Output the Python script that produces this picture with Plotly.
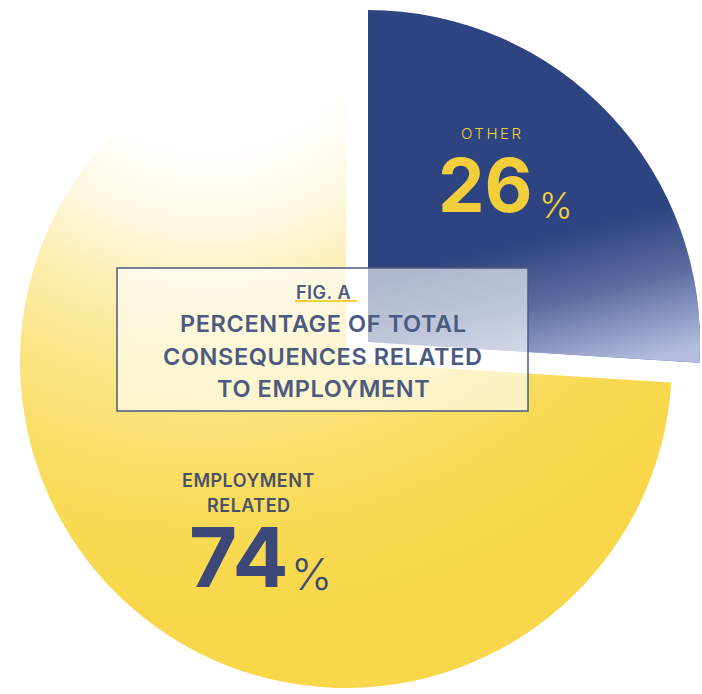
import base64
import math
import plotly.graph_objects as go

W, H = 702, 694

# ---------------- data ----------------
categories = ["Other", "Employment related"]
values = [26, 74]
slice_labels = [["OTHER"], ["EMPLOYMENT", "RELATED"]]
fig_tag = "FIG. A"
title_lines = ["PERCENTAGE OF TOTAL", "CONSEQUENCES RELATED", "TO EMPLOYMENT"]

# ---------------- style ----------------
NAVY = "#2d4480"
YELLOW = "#f8d84a"
LABEL_YELLOW = "#f2ce3a"
SLATE = "#4a5a80"
DARK_SLATE = "#4a5068"
NUM_NAVY = "#3b4878"
FONT = "Inter"

# pie geometry (pixels): navy slice is pulled out of the yellow pie
NAVY_C, NAVY_R = (368, 342), 332
YEL_C, YEL_R = (346, 362), 326


def dom(c, r):
    cx, cy = c
    return dict(x=[(cx - r) / W, (cx + r) / W], y=[1 - (cy + r) / H, 1 - (cy - r) / H])


def px(x):
    return x / W


def py(y):
    return 1 - y / H


fig = go.Figure()
fig.add_trace(go.Pie(
    labels=categories, values=values, sort=False, direction="clockwise", rotation=0,
    marker=dict(colors=["rgba(0,0,0,0)", YELLOW], line=dict(width=0)),
    textinfo="none", hoverinfo="label+percent", domain=dom(YEL_C, YEL_R), showlegend=False,
))
fig.add_trace(go.Pie(
    labels=categories, values=values, sort=False, direction="clockwise", rotation=0,
    marker=dict(colors=[NAVY, "rgba(0,0,0,0)"], line=dict(width=0)),
    textinfo="none", hoverinfo="label+percent", domain=dom(NAVY_C, NAVY_R), showlegend=False,
))

# ---------------- gradient overlays (decoration) ----------------
total = sum(values)
a_split = 360.0 * values[0] / total


def pt(c, r, a):
    t = math.radians(a)
    return c[0] + r * math.sin(t), c[1] - r * math.cos(t)


def wedge(c, r, a0, a1):
    x0, y0 = pt(c, r, a0)
    x1, y1 = pt(c, r, a1 - 1e-6)
    large = 1 if a1 - a0 > 180 else 0
    return (f"M{c[0]},{c[1]} L{x0:.2f},{y0:.2f} "
            f"A{r},{r} 0 {large} 1 {x1:.2f},{y1:.2f} Z")


svg = f'''<svg xmlns="http://www.w3.org/2000/svg" width="{W}" height="{H}" viewBox="0 0 {W} {H}" preserveAspectRatio="none">
<defs>
<radialGradient id="fy" gradientUnits="userSpaceOnUse" cx="210" cy="-10" r="630">
<stop offset="0" stop-color="#ffffff" stop-opacity="1"/>
<stop offset="0.24" stop-color="#ffffff" stop-opacity="1"/>
<stop offset="0.32" stop-color="#ffffff" stop-opacity="0.93"/>
<stop offset="0.4" stop-color="#ffffff" stop-opacity="0.79"/>
<stop offset="0.47" stop-color="#ffffff" stop-opacity="0.63"/>
<stop offset="0.55" stop-color="#ffffff" stop-opacity="0.46"/>
<stop offset="0.65" stop-color="#ffffff" stop-opacity="0.3"/>
<stop offset="0.76" stop-color="#ffffff" stop-opacity="0.16"/>
<stop offset="0.87" stop-color="#ffffff" stop-opacity="0.05"/>
<stop offset="1" stop-color="#ffffff" stop-opacity="0"/>
</radialGradient>
<linearGradient id="fn" gradientUnits="userSpaceOnUse" x1="590" y1="225" x2="625" y2="365">
<stop offset="0" stop-color="#c2cae9" stop-opacity="0"/>
<stop offset="0.45" stop-color="#c2cae9" stop-opacity="0.3"/>
<stop offset="1" stop-color="#c2cae9" stop-opacity="0.9"/>
</linearGradient>
</defs>
<path d="{wedge(YEL_C, YEL_R + 3, a_split - 0.6, 360.6)}" fill="url(#fy)"/>
<path d="{wedge(NAVY_C, NAVY_R, 0, a_split)}" fill="url(#fn)"/>
</svg>'''

src = "data:image/svg+xml;base64," + base64.b64encode(svg.encode()).decode()

# ---------------- layout ----------------
shapes = [
    dict(type="rect", xref="paper", yref="paper", x0=px(117), x1=px(528), y0=py(411), y1=py(268),
         fillcolor="rgba(255,255,255,0.62)", line=dict(color=SLATE, width=1.5), layer="above"),
    dict(type="line", xref="paper", yref="paper", x0=px(295), x1=px(357), y0=py(301), y1=py(301),
         line=dict(color=LABEL_YELLOW, width=2), layer="above"),
]


def ann(text, x, y, size, color, weight=400, xanchor="center", spacing=None):
    if spacing is not None:
        text = f'<span style="letter-spacing:{spacing}px">{text}</span>'
    return dict(text=text, x=px(x), y=py(y), xref="paper", yref="paper", showarrow=False,
                xanchor=xanchor, yanchor="middle",
                font=dict(family=FONT, size=size, color=color, weight=weight))


annotations = [
    ann(fig_tag, 323, 292, 18, SLATE, 600, spacing=0.5),
    ann(title_lines[0], 323, 323, 23.5, SLATE, 600, spacing=0.6),
    ann(title_lines[1], 323, 356, 23.5, SLATE, 600, spacing=0.6),
    ann(title_lines[2], 323, 388, 23.5, SLATE, 600, spacing=0.6),
    # Other slice label
    ann(slice_labels[0][0], 492, 133, 15, LABEL_YELLOW, 300, spacing=2.5),
    ann(str(values[0]), 535, 185, 74, LABEL_YELLOW, 700, xanchor="right"),
    ann("%", 537, 205, 36, LABEL_YELLOW, 300, xanchor="left"),
    # Employment slice label
    ann(slice_labels[1][0], 248, 480, 18, DARK_SLATE, 600, spacing=0.5),
    ann(slice_labels[1][1], 249, 505, 18, DARK_SLATE, 600, spacing=0.5),
    ann(str(values[1]), 291, 557, 83, NUM_NAVY, 700, xanchor="right"),
    ann("%", 289, 574, 44, NUM_NAVY, 300, xanchor="left"),
]

fig.update_layout(
    width=W, height=H, margin=dict(l=0, r=0, t=0, b=0),
    paper_bgcolor="white", plot_bgcolor="white", showlegend=False,
    shapes=shapes, annotations=annotations,
    images=[dict(source=src, xref="paper", yref="paper", x=0, y=1, sizex=1, sizey=1,
                 xanchor="left", yanchor="top", sizing="stretch", layer="above")],
)

fig.write_html("out.html")
